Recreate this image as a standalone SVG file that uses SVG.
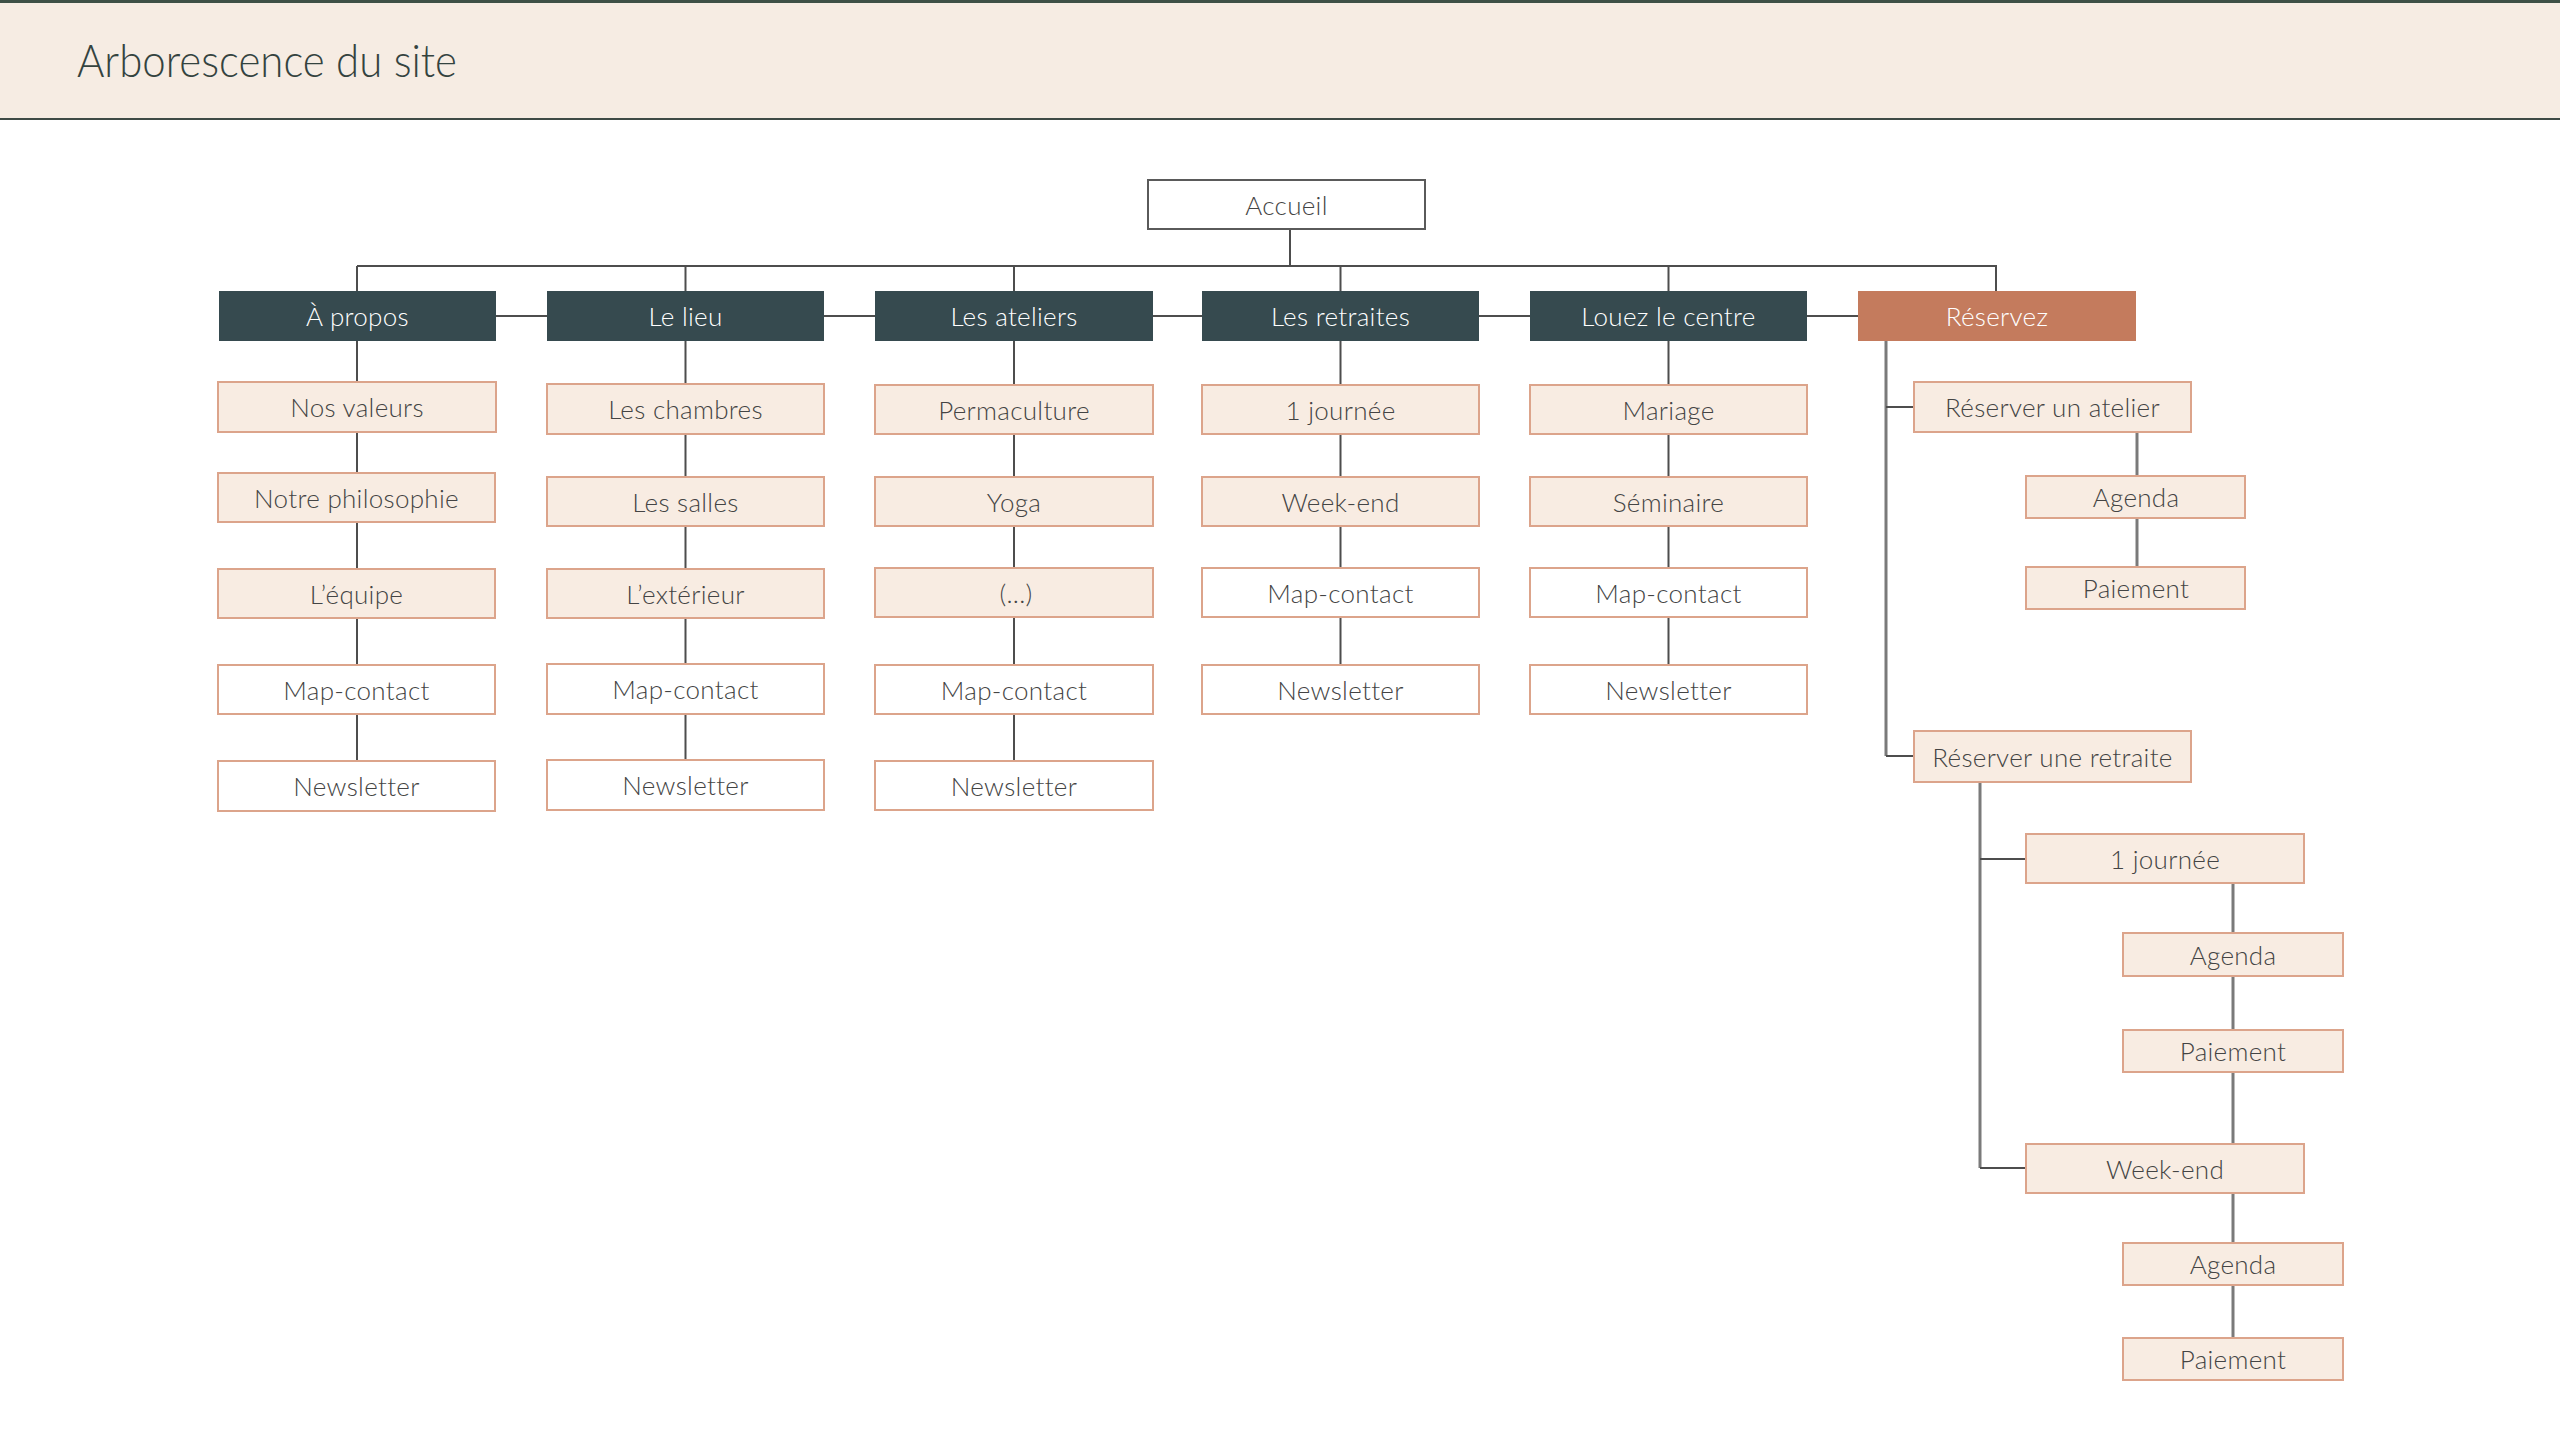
<svg xmlns="http://www.w3.org/2000/svg" width="2560" height="1439" viewBox="0 0 2560 1439">
<style>
.t{font-family:Lato,"Noto Sans",sans-serif;font-weight:300;font-size:26px;fill:#444444;text-anchor:middle;dominant-baseline:central;letter-spacing:0.3px}
.tw{fill:#ffffff}
.lt{fill:#f8ece2;stroke:#dca48b;stroke-width:2}
.wh{fill:#ffffff;stroke:#dca48b;stroke-width:2}
.ac{fill:#ffffff;stroke:#5a5a5a;stroke-width:2}
.dk{fill:#364a4f}
.rs{fill:#c47b5d}
.c{stroke:#4d4d4d;stroke-width:2;fill:none}
.c2{stroke:#7a7a7a;stroke-width:3;fill:none}
</style>
<rect x="0" y="0" width="2560" height="1439" fill="#ffffff"/>
<g id="header">
<rect x="0" y="0" width="2560" height="119" fill="#f6ece3"/>
<line x1="0" y1="1.5" x2="2560" y2="1.5" stroke="#3e5046" stroke-width="3"/>
<line x1="0" y1="119" x2="2560" y2="119" stroke="#3e4a45" stroke-width="2"/>
<text x="77" y="77" font-family="Lato,'Noto Sans',sans-serif" font-weight="300" font-size="46" fill="#34433f" textLength="380" lengthAdjust="spacingAndGlyphs">Arborescence du site</text>
</g>
<g id="connectors">
<line class="c" x1="1290" y1="229" x2="1290" y2="266"/>
<line class="c" x1="357" y1="266" x2="1996" y2="266"/>
<line class="c" x1="357" y1="266" x2="357" y2="291"/>
<line class="c" x1="685.5" y1="266" x2="685.5" y2="291"/>
<line class="c" x1="1014" y1="266" x2="1014" y2="291"/>
<line class="c" x1="1340.5" y1="266" x2="1340.5" y2="291"/>
<line class="c" x1="1668.5" y1="266" x2="1668.5" y2="291"/>
<line class="c" x1="1996" y1="265" x2="1996" y2="291"/>
<line class="c" x1="496" y1="316" x2="547" y2="316"/>
<line class="c" x1="824" y1="316" x2="875" y2="316"/>
<line class="c" x1="1153" y1="316" x2="1202" y2="316"/>
<line class="c" x1="1479" y1="316" x2="1530" y2="316"/>
<line class="c" x1="1807" y1="316" x2="1858" y2="316"/>
<line class="c" x1="357" y1="341" x2="357" y2="761"/>
<line class="c" x1="685.5" y1="341" x2="685.5" y2="760"/>
<line class="c" x1="1014" y1="341" x2="1014" y2="761"/>
<line class="c" x1="1340.5" y1="341" x2="1340.5" y2="665"/>
<line class="c" x1="1668.5" y1="341" x2="1668.5" y2="665"/>
<line class="c2" x1="1886" y1="341" x2="1886" y2="756"/>
<line class="c" x1="1886" y1="407" x2="1914" y2="407"/>
<line class="c" x1="1886" y1="756" x2="1914" y2="756"/>
<line class="c2" x1="2137" y1="432" x2="2137" y2="567"/>
<line class="c2" x1="1980" y1="782" x2="1980" y2="1168"/>
<line class="c" x1="1980" y1="859" x2="2026" y2="859"/>
<line class="c" x1="1980" y1="1168" x2="2026" y2="1168"/>
<line class="c2" x1="2233" y1="883" x2="2233" y2="1338"/>
</g>
<g id="accueil"><rect class="ac" x="1148" y="180" width="277" height="49"/><text class="t" x="1286.5" y="204.5">Accueil</text></g>
<g id="apropos"><rect class="dk" x="219" y="291" width="277" height="50"/><text class="t tw" x="357.5" y="316">À propos</text></g>
<g id="lelieu"><rect class="dk" x="547" y="291" width="277" height="50"/><text class="t tw" x="685.5" y="316">Le lieu</text></g>
<g id="ateliers"><rect class="dk" x="875" y="291" width="278" height="50"/><text class="t tw" x="1014" y="316">Les ateliers</text></g>
<g id="retraites"><rect class="dk" x="1202" y="291" width="277" height="50"/><text class="t tw" x="1340.5" y="316">Les retraites</text></g>
<g id="louez"><rect class="dk" x="1530" y="291" width="277" height="50"/><text class="t tw" x="1668.5" y="316">Louez le centre</text></g>
<g id="reservez"><rect class="rs" x="1858" y="291" width="278" height="50"/><text class="t tw" x="1997" y="316">Réservez</text></g>

<g id="a1"><rect class="lt" x="218" y="382" width="278" height="50"/><text class="t" x="357" y="407">Nos valeurs</text></g>
<g id="a2"><rect class="lt" x="218" y="473" width="277" height="49"/><text class="t" x="356.5" y="497.5">Notre philosophie</text></g>
<g id="a3"><rect class="lt" x="218" y="569" width="277" height="49"/><text class="t" x="356.5" y="593.5">L’équipe</text></g>
<g id="a4"><rect class="wh" x="218" y="665" width="277" height="49"/><text class="t" x="356.5" y="689.5">Map-contact</text></g>
<g id="a5"><rect class="wh" x="218" y="761" width="277" height="50"/><text class="t" x="356.5" y="786">Newsletter</text></g>

<g id="l1"><rect class="lt" x="547" y="384" width="277" height="50"/><text class="t" x="685.5" y="409">Les chambres</text></g>
<g id="l2"><rect class="lt" x="547" y="477" width="277" height="49"/><text class="t" x="685.5" y="501.5">Les salles</text></g>
<g id="l3"><rect class="lt" x="547" y="569" width="277" height="49"/><text class="t" x="685.5" y="593.5">L’extérieur</text></g>
<g id="l4"><rect class="wh" x="547" y="664" width="277" height="50"/><text class="t" x="685.5" y="689">Map-contact</text></g>
<g id="l5"><rect class="wh" x="547" y="760" width="277" height="50"/><text class="t" x="685.5" y="785">Newsletter</text></g>

<g id="t1"><rect class="lt" x="875" y="385" width="278" height="49"/><text class="t" x="1014" y="409.5">Permaculture</text></g>
<g id="t2"><rect class="lt" x="875" y="477" width="278" height="49"/><text class="t" x="1014" y="501.5">Yoga</text></g>
<g id="t3"><rect class="lt" x="875" y="568" width="278" height="49"/><text class="t" x="1016" y="592.5">(...)</text></g>
<g id="t4"><rect class="wh" x="875" y="665" width="278" height="49"/><text class="t" x="1014" y="689.5">Map-contact</text></g>
<g id="t5"><rect class="wh" x="875" y="761" width="278" height="49"/><text class="t" x="1014" y="785.5">Newsletter</text></g>

<g id="r1"><rect class="lt" x="1202" y="385" width="277" height="49"/><text class="t" x="1340.5" y="409.5">1 journée</text></g>
<g id="r2"><rect class="lt" x="1202" y="477" width="277" height="49"/><text class="t" x="1340.5" y="501.5">Week-end</text></g>
<g id="r3"><rect class="wh" x="1202" y="568" width="277" height="49"/><text class="t" x="1340.5" y="592.5">Map-contact</text></g>
<g id="r4"><rect class="wh" x="1202" y="665" width="277" height="49"/><text class="t" x="1340.5" y="689.5">Newsletter</text></g>

<g id="c1"><rect class="lt" x="1530" y="385" width="277" height="49"/><text class="t" x="1668.5" y="409.5">Mariage</text></g>
<g id="c2"><rect class="lt" x="1530" y="477" width="277" height="49"/><text class="t" x="1668.5" y="501.5">Séminaire</text></g>
<g id="c3"><rect class="wh" x="1530" y="568" width="277" height="49"/><text class="t" x="1668.5" y="592.5">Map-contact</text></g>
<g id="c4"><rect class="wh" x="1530" y="665" width="277" height="49"/><text class="t" x="1668.5" y="689.5">Newsletter</text></g>

<g id="ra"><rect class="lt" x="1914" y="382" width="277" height="50"/><text class="t" x="2052.5" y="407">Réserver un atelier</text></g>
<g id="ra1"><rect class="lt" x="2026" y="476" width="219" height="42"/><text class="t" x="2136" y="497">Agenda</text></g>
<g id="ra2"><rect class="lt" x="2026" y="567" width="219" height="42"/><text class="t" x="2136" y="588">Paiement</text></g>
<g id="rr"><rect class="lt" x="1914" y="731" width="277" height="51"/><text class="t" x="2052.5" y="756.5">Réserver une retraite</text></g>
<g id="rr1"><rect class="lt" x="2026" y="834" width="278" height="49"/><text class="t" x="2165" y="858.5">1 journée</text></g>
<g id="rr1a"><rect class="lt" x="2123" y="933" width="220" height="43"/><text class="t" x="2233" y="954.5">Agenda</text></g>
<g id="rr1b"><rect class="lt" x="2123" y="1030" width="220" height="42"/><text class="t" x="2233" y="1051">Paiement</text></g>
<g id="rr2"><rect class="lt" x="2026" y="1144" width="278" height="49"/><text class="t" x="2165" y="1168.5">Week-end</text></g>
<g id="rr2a"><rect class="lt" x="2123" y="1243" width="220" height="42"/><text class="t" x="2233" y="1264">Agenda</text></g>
<g id="rr2b"><rect class="lt" x="2123" y="1338" width="220" height="42"/><text class="t" x="2233" y="1359">Paiement</text></g>
</svg>
